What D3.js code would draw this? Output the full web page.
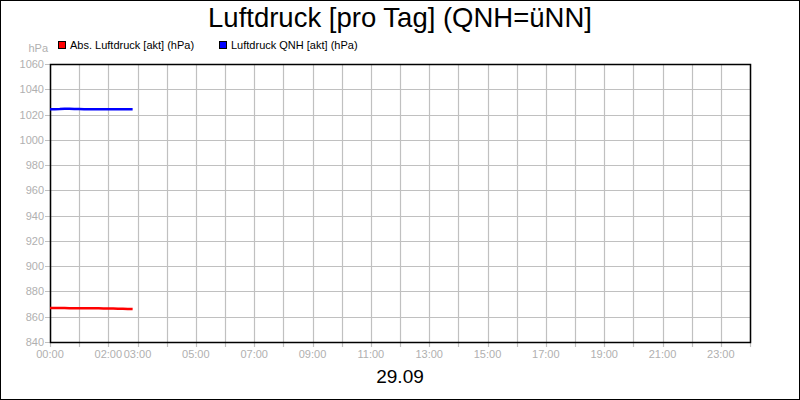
<!DOCTYPE html>
<html><head><meta charset="utf-8">
<script src="https://cdn.jsdelivr.net/npm/d3@7"></script>
<style>body{margin:0;background:#fff}svg{display:block;font-family:Arial,"Liberation Sans",sans-serif}</style>
</head><body><svg id="c" width="800" height="400"></svg>
<script>
const title = "Luftdruck [pro Tag] (QNH=üNN]";
const dateLabel = "29.09";
const unitLabel = "hPa";
const seriesNames = ["Abs. Luftdruck [akt] (hPa)", "Luftdruck QNH [akt] (hPa)"];
const seriesColors = ["#ff0000", "#0000ff"];
// time in hours since 00:00
const times = [0, 0.1667, 0.3333, 0.5, 0.6667, 0.8333, 1, 1.1667, 1.3333, 1.5, 1.6667, 1.8333, 2, 2.1667, 2.3333, 2.5, 2.6667, 2.8333];
const absValues = [866.9, 866.9, 866.9, 866.9, 866.8, 866.8, 866.8, 866.8, 866.8, 866.7, 866.7, 866.6, 866.6, 866.5, 866.4, 866.3, 866.2, 866.1];
const qnhValues = [1024.2, 1024.2, 1024.3, 1024.5, 1024.6, 1024.4, 1024.3, 1024.2, 1024.2, 1024.2, 1024.2, 1024.2, 1024.2, 1024.2, 1024.1, 1024.1, 1024.1, 1024.1];
const yTicks = [840, 860, 880, 900, 920, 940, 960, 980, 1000, 1020, 1040, 1060];
const xTickLabels = ["00:00","02:00","03:00","05:00","07:00","09:00","11:00","13:00","15:00","17:00","19:00","21:00","23:00"];
const xTickLabelHours = [0,2,3,5,7,9,11,13,15,17,19,21,23];
const xGridHours = d3.range(0, 25);

const svg = d3.select("#c");
const L = 50, R = 750, T = 64, B = 342;
const x = d3.scaleLinear().domain([0, 24]).range([L, R]);
const y = d3.scaleLinear().domain([840, 1060]).range([B, T]);
const grey = "#b0b0b0", gridC = "#c0c0c0";

svg.append("rect").attr("x",0.5).attr("y",0.5).attr("width",799).attr("height",399).attr("fill","#fff").attr("stroke","#000");

svg.append("text").attr("x",400).attr("y",27).attr("text-anchor","middle").attr("font-size",27.5).attr("fill","#000").text(title);

// grid
svg.append("g").selectAll("line").data(xGridHours).join("line")
  .attr("x1",d=>Math.round(x(d))+0.5).attr("x2",d=>Math.round(x(d))+0.5).attr("y1",T).attr("y2",B+5)
  .attr("stroke",gridC).attr("stroke-width",1.2);
svg.append("g").selectAll("line").data(yTicks).join("line")
  .attr("x1",L-5).attr("x2",R).attr("y1",d=>Math.round(y(d))+0.5).attr("y2",d=>Math.round(y(d))+0.5)
  .attr("stroke",gridC).attr("stroke-width",1.2);

// y labels
svg.append("g").selectAll("text").data(yTicks).join("text")
  .attr("x",44).attr("y",d=>y(d)+4).attr("text-anchor","end").attr("font-size",11).attr("fill",grey).text(d=>d);
svg.append("text").attr("x",48).attr("y",52).attr("text-anchor","end").attr("font-size",11).attr("fill",grey).text(unitLabel);
// x labels
svg.append("g").selectAll("text").data(xTickLabels).join("text")
  .attr("x",(d,i)=>x(xTickLabelHours[i])).attr("y",358).attr("text-anchor","middle").attr("font-size",11).attr("fill",grey).text(d=>d);

// plot frame
svg.append("rect").attr("x",L+0.5).attr("y",T+0.5).attr("width",R-L).attr("height",B-T).attr("fill","none").attr("stroke","#000").attr("stroke-width",1.5);

// lines
const line = d3.line().x((d,i)=>x(times[i])).y(d=>y(d)).curve(d3.curveLinear);
[absValues, qnhValues].forEach((vals,k)=>{
  svg.append("path").datum(vals).attr("d",line).attr("fill","none").attr("stroke",seriesColors[k]).attr("stroke-width",2.5);
});

// legend
const legX = [58, 219];
seriesNames.forEach((n,k)=>{
  svg.append("rect").attr("x",legX[k]+0.5).attr("y",41.5).attr("width",7).attr("height",7).attr("fill",seriesColors[k]).attr("stroke","#000").attr("stroke-width",1);
  svg.append("text").attr("x",legX[k]+12).attr("y",49).attr("font-size",11).attr("fill","#000").text(n);
});

svg.append("text").attr("x",400).attr("y",383).attr("text-anchor","middle").attr("font-size",19).attr("fill","#000").text(dateLabel);
</script></body></html>
